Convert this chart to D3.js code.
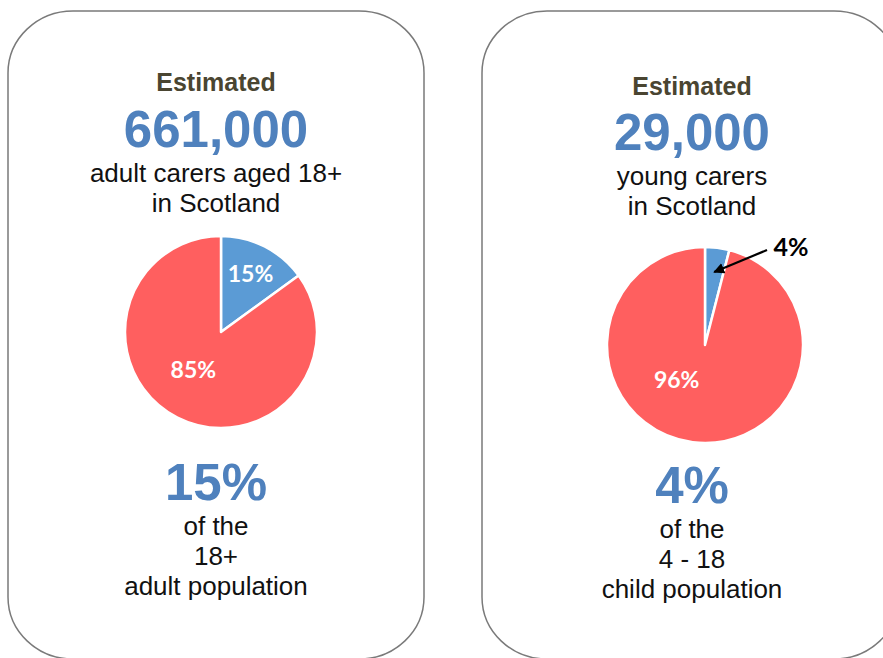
<!DOCTYPE html>
<html>
<head>
<meta charset="utf-8">
<script src="https://cdn.jsdelivr.net/npm/d3@7"></script>
<style>
  body { margin: 0; background: #fff; }
  svg { display: block; }
</style>
</head>
<body>
<div id="chart"></div>
<script>
// values
var headlines = ["661,000", "29,000"];
var descLines = [["adult carers aged 18+", "in Scotland"], ["young carers", "in Scotland"]];
var carerShare = [15, 4];
var otherShare = [85, 96];
var popLines = [["of the", "18+", "adult population"], ["of the", "4 - 18", "child population"]];

var width = 883, height = 658;
var blue = "#5b9bd5", red = "#ff5f5f", textBlue = "#4f81bd", olive = "#4a4531";

// layout of the two cards
var cards = [
  { x: 8, y: 11, w: 416, h: 648, cx: 216, pcx: 221, pcy: 332, r: 96, base: [91, 147, 182], low: 500,
    lab: [[27, 65], [216, 47]] },
  { x: 482, y: 11, w: 417, h: 648, cx: 692, pcx: 705, pcy: 345, r: 98, base: [95, 150, 185], low: 503,
    lab: [[7, 0], [219, 45]] }
];

var svg = d3.select("#chart").append("svg")
  .attr("width", width)
  .attr("height", height);

svg.append("defs").append("marker")
  .attr("id", "arrow")
  .attr("viewBox", "0 0 10 10")
  .attr("refX", 9).attr("refY", 5)
  .attr("markerWidth", 5).attr("markerHeight", 5)
  .attr("orient", "auto")
  .append("path")
  .attr("d", "M0,0L10,5L0,10z")
  .attr("fill", "#000");

var pie = d3.pie().sort(null).value(d => d);
var color = d3.scaleOrdinal().domain([0, 1]).range([blue, red]);
var sans = "'Liberation Sans', Arial, sans-serif";
var labelFont = "Lato, 'Open Sans', sans-serif";

cards.forEach(function(c, i) {
  var g = svg.append("g");

  g.append("rect")
    .attr("x", c.x).attr("y", c.y)
    .attr("width", c.w).attr("height", c.h)
    .attr("rx", 65).attr("ry", 62)
    .attr("fill", "#fff")
    .attr("stroke", "#7a7a7a")
    .attr("stroke-width", 1.5);

  g.append("text")
    .attr("x", c.cx).attr("y", c.base[0])
    .attr("text-anchor", "middle")
    .attr("font-family", sans).attr("font-weight", "bold")
    .attr("font-size", 25).attr("fill", olive)
    .text("Estimated");

  g.append("text")
    .attr("x", c.cx).attr("y", c.base[1])
    .attr("text-anchor", "middle")
    .attr("font-family", sans).attr("font-weight", "bold")
    .attr("font-size", 51).attr("fill", textBlue)
    .text(headlines[i]);

  descLines[i].forEach(function(t, j) {
    g.append("text")
      .attr("x", c.cx).attr("y", c.base[2] + j * 30)
      .attr("text-anchor", "middle")
      .attr("font-family", sans).attr("font-size", 26).attr("fill", "#111")
      .text(t);
  });

  // pie
  var arcs = pie([carerShare[i], otherShare[i]]);
  var arc = d3.arc().innerRadius(0).outerRadius(c.r);
  var pg = g.append("g").attr("transform", "translate(" + c.pcx + "," + c.pcy + ")");

  pg.selectAll("path")
    .data(arcs)
    .enter()
    .append("path")
    .attr("d", arc)
    .attr("fill", (d, k) => color(k))
    .attr("stroke", "#fff")
    .attr("stroke-width", 2.5)
    .attr("stroke-linejoin", "round");

  arcs.forEach(function(d, k) {
    var p = c.lab[k];
    if (p[1] === 0) return; // label drawn outside with arrow
    var a = p[0] * Math.PI / 180;
    pg.append("text")
      .attr("x", Math.sin(a) * p[1])
      .attr("y", -Math.cos(a) * p[1])
      .attr("dy", "0.35em")
      .attr("text-anchor", "middle")
      .attr("font-family", labelFont).attr("font-weight", "bold")
      .attr("font-size", 23).attr("fill", "#fff")
      .text(d.data + "%");
  });

  if (i === 1) {
    var s = arcs[0];
    var mid = (s.startAngle + s.endAngle) / 2;
    var tr = c.r * 0.75;
    pg.append("line")
      .attr("x1", 62).attr("y1", -95)
      .attr("x2", Math.sin(mid) * tr).attr("y2", -Math.cos(mid) * tr)
      .attr("stroke", "#000").attr("stroke-width", 2.2)
      .attr("marker-end", "url(#arrow)");
    pg.append("text")
      .attr("x", 86).attr("y", -98)
      .attr("dy", "0.35em")
      .attr("text-anchor", "middle")
      .attr("font-family", labelFont).attr("font-weight", "bold")
      .attr("font-size", 25).attr("fill", "#000")
      .text(s.data + "%");
  }

  g.append("text")
    .attr("x", c.cx).attr("y", c.low)
    .attr("text-anchor", "middle")
    .attr("font-family", sans).attr("font-weight", "bold")
    .attr("font-size", 51).attr("fill", textBlue)
    .text(carerShare[i] + "%");

  popLines[i].forEach(function(t, j) {
    g.append("text")
      .attr("x", c.cx).attr("y", c.low + 35 + j * 30)
      .attr("text-anchor", "middle")
      .attr("font-family", sans).attr("font-size", 26).attr("fill", "#111")
      .text(t);
  });
});
</script>
</body>
</html>
